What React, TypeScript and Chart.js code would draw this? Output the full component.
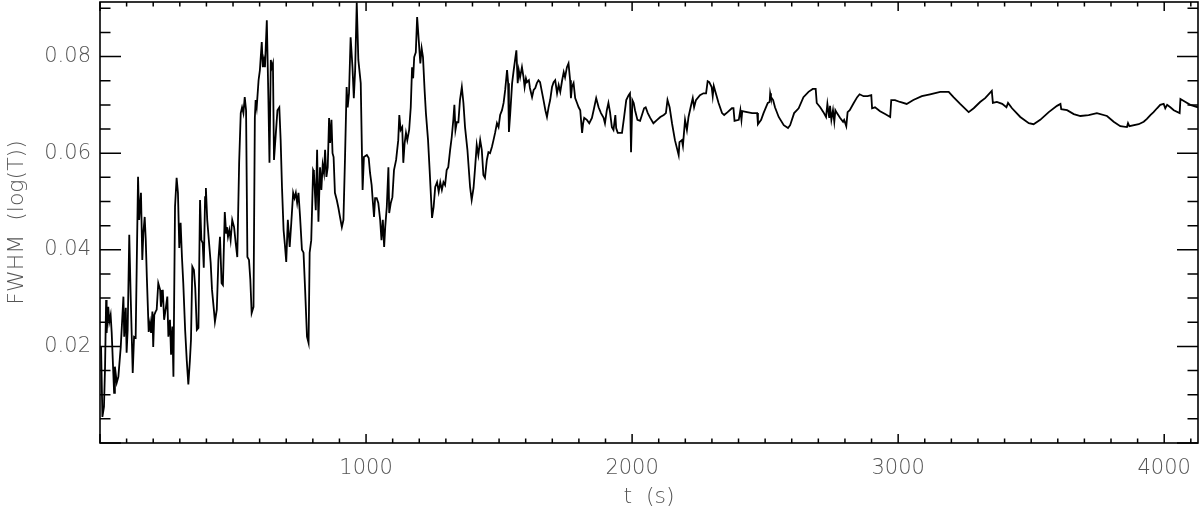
import React, { useEffect, useRef } from "react";
import { Chart, registerables } from "chart.js";

Chart.register(...registerables);

// time (s)
const times: number[] = [
  4, 9, 15, 19, 23, 25, 31, 35, 40, 44,
  50, 53, 56, 63, 69, 78, 88, 91, 97, 100,
  104, 110, 115, 123, 128, 134, 138, 143, 147, 154,
  159, 163, 168, 172, 176, 183, 188, 192, 197, 200,
  204, 209, 213, 219, 226, 229, 236, 241, 248, 253,
  257, 263, 267, 272, 276, 282, 288, 293, 298, 303,
  308, 313, 320, 326, 332, 338, 342, 347, 353, 358,
  364, 370, 376, 381, 386, 390, 395, 398, 403, 410,
  416, 421, 428, 432, 439, 445, 451, 457, 462, 469,
  474, 477, 481, 486, 491, 497, 504, 510, 516, 523,
  529, 534, 539, 544, 549, 554, 560, 565, 570, 577,
  582, 585, 589, 596, 601, 608, 612, 616, 620, 627,
  633, 637, 642, 646, 650, 654, 661, 667, 674, 679,
  684, 690, 695, 700, 706, 713, 719, 726, 731, 736,
  741, 746, 752, 759, 765, 771, 778, 784, 788, 794,
  801, 804, 811, 816, 821, 827, 832, 837, 842, 846,
  851, 856, 861, 865, 870, 874, 878, 883, 890, 896,
  902, 909, 915, 921, 927, 931, 936, 942, 949, 954,
  959, 965, 971, 980, 987, 992, 1003, 1010, 1015, 1021,
  1025, 1030, 1034, 1040, 1046, 1053, 1058, 1063, 1068, 1072,
  1078, 1084, 1087, 1093, 1099, 1105, 1113, 1121, 1125, 1130,
  1136, 1140, 1145, 1150, 1155, 1162, 1168, 1173, 1177, 1181,
  1187, 1192, 1198, 1204, 1209, 1214, 1220, 1225, 1233, 1239,
  1248, 1254, 1260, 1267, 1273, 1279, 1285, 1291, 1297, 1303,
  1309, 1316, 1322, 1328, 1332, 1336, 1341, 1347, 1353, 1360,
  1366, 1372, 1381, 1391, 1397, 1404, 1410, 1416, 1422, 1429,
  1435, 1441, 1447, 1454, 1460, 1466, 1473, 1479, 1485, 1492,
  1498, 1504, 1511, 1517, 1523, 1530, 1534, 1537, 1542, 1549,
  1555, 1561, 1565, 1570, 1574, 1579, 1586, 1592, 1596, 1601,
  1605, 1612, 1616, 1624, 1630, 1636, 1642, 1648, 1654, 1661,
  1667, 1674, 1680, 1686, 1692, 1699, 1705, 1711, 1718, 1724,
  1730, 1737, 1743, 1748, 1755, 1761, 1767, 1770, 1774, 1780,
  1786, 1793, 1799, 1805, 1812, 1816, 1820, 1830, 1839, 1849,
  1857, 1865, 1874, 1883, 1893, 1898, 1905, 1911, 1917, 1924,
  1930, 1937, 1940, 1946, 1953, 1962, 1970, 1978, 1987, 1992,
  1996, 2001, 2006, 2011, 2020, 2030, 2037, 2045, 2051, 2059,
  2068, 2080, 2094, 2106, 2119, 2127, 2133, 2141, 2150, 2161,
  2175, 2178, 2187, 2191, 2199, 2206, 2212, 2220, 2228, 2233,
  2240, 2255, 2268, 2278, 2284, 2290, 2299, 2303, 2307, 2313,
  2325, 2338, 2346, 2359, 2375, 2381, 2385, 2401, 2407, 2411,
  2414, 2432, 2451, 2470, 2473, 2485, 2494, 2510, 2517, 2519,
  2522, 2530, 2537, 2551, 2570, 2586, 2594, 2609, 2626, 2644,
  2663, 2679, 2690, 2694, 2707, 2719, 2729, 2734, 2741, 2744,
  2749, 2755, 2760, 2764, 2770, 2782, 2793, 2797, 2805, 2810,
  2818, 2833, 2846, 2855, 2870, 2885, 2899, 2902, 2913, 2932,
  2951, 2970, 2974, 2988, 3007, 3032, 3057, 3089, 3120, 3158,
  3190, 3208, 3233, 3265, 3284, 3308, 3327, 3352, 3356, 3371,
  3391, 3407, 3413, 3428, 3459, 3491, 3509, 3534, 3566, 3597,
  3610, 3613, 3635, 3660, 3685, 3716, 3747, 3785, 3810, 3835,
  3860, 3864, 3869, 3904, 3923, 3935, 3948, 3960, 3973, 3985,
  3998, 4004, 4011, 4023, 4036, 4058, 4061, 4080, 4098, 4127,
];

// FWHM (log(T))
const fwhm: number[] = [
  0.0199, 0.0054, 0.0075, 0.0158, 0.0296, 0.0228, 0.0282, 0.0251, 0.0265, 0.0228,
  0.0145, 0.0104, 0.0158, 0.0125, 0.0137, 0.0199, 0.0303, 0.0220, 0.0280, 0.0187,
  0.0234, 0.0431, 0.0311, 0.0145, 0.0220, 0.0218, 0.0365, 0.0551, 0.0462, 0.0518,
  0.0379, 0.0435, 0.0468, 0.0420, 0.0344, 0.0230, 0.0249, 0.0228, 0.0272, 0.0199,
  0.0265, 0.0272, 0.0276, 0.0331, 0.0317, 0.0282, 0.0317, 0.0255, 0.0282, 0.0303,
  0.0220, 0.0255, 0.0183, 0.0241, 0.0137, 0.0489, 0.0549, 0.0518, 0.0404, 0.0456,
  0.0385, 0.0331, 0.0234, 0.0172, 0.0121, 0.0172, 0.0214, 0.0365, 0.0358, 0.0321,
  0.0234, 0.0238, 0.0503, 0.0420, 0.0414, 0.0363, 0.0509, 0.0528, 0.0462, 0.0414,
  0.0373, 0.0317, 0.0276, 0.0251, 0.0276, 0.0379, 0.0427, 0.0331, 0.0327, 0.0478,
  0.0435, 0.0447, 0.0427, 0.0441, 0.0420, 0.0462, 0.0447, 0.0414, 0.0385, 0.0580,
  0.0683, 0.0695, 0.0683, 0.0716, 0.0689, 0.0385, 0.0379, 0.0338, 0.0269, 0.0282,
  0.0673, 0.0710, 0.0695, 0.0751, 0.0772, 0.0830, 0.0778, 0.0793, 0.0778, 0.0875,
  0.0710, 0.0580, 0.0793, 0.0778, 0.0786, 0.0586, 0.0642, 0.0689, 0.0695, 0.0627,
  0.0530, 0.0441, 0.0410, 0.0375, 0.0462, 0.0406, 0.0456, 0.0518, 0.0507, 0.0518,
  0.0497, 0.0518, 0.0468, 0.0400, 0.0394, 0.0317, 0.0220, 0.0207, 0.0394, 0.0420,
  0.0565, 0.0561, 0.0482, 0.0607, 0.0458, 0.0571, 0.0524, 0.0576, 0.0559, 0.0607,
  0.0551, 0.0571, 0.0673, 0.0621, 0.0669, 0.0600, 0.0592, 0.0518, 0.0503, 0.0487,
  0.0468, 0.0447, 0.0462, 0.0592, 0.0737, 0.0695, 0.0724, 0.0840, 0.0778, 0.0714,
  0.0772, 0.0912, 0.0793, 0.0745, 0.0524, 0.0592, 0.0596, 0.0590, 0.0559, 0.0534,
  0.0503, 0.0468, 0.0507, 0.0507, 0.0497, 0.0462, 0.0420, 0.0462, 0.0406, 0.0447,
  0.0489, 0.0571, 0.0476, 0.0497, 0.0509, 0.0565, 0.0586, 0.0627, 0.0679, 0.0648,
  0.0654, 0.0580, 0.0621, 0.0642, 0.0627, 0.0648, 0.0695, 0.0778, 0.0755, 0.0799,
  0.0809, 0.0882, 0.0834, 0.0786, 0.0817, 0.0799, 0.0731, 0.0683, 0.0627, 0.0565,
  0.0466, 0.0489, 0.0530, 0.0540, 0.0520, 0.0540, 0.0524, 0.0540, 0.0534, 0.0565,
  0.0571, 0.0607, 0.0633, 0.0669, 0.0700, 0.0648, 0.0664, 0.0664, 0.0710, 0.0737,
  0.0704, 0.0654, 0.0607, 0.0530, 0.0503, 0.0528, 0.0571, 0.0617, 0.0596, 0.0627,
  0.0607, 0.0555, 0.0549, 0.0586, 0.0602, 0.0600, 0.0613, 0.0627, 0.0642, 0.0662,
  0.0654, 0.0679, 0.0689, 0.0704, 0.0731, 0.0772, 0.0745, 0.0644, 0.0683, 0.0745,
  0.0772, 0.0797, 0.0813, 0.0745, 0.0772, 0.0757, 0.0778, 0.0757, 0.0737, 0.0755,
  0.0747, 0.0751, 0.0735, 0.0716, 0.0731, 0.0735, 0.0745, 0.0751, 0.0747, 0.0727,
  0.0710, 0.0689, 0.0675, 0.0695, 0.0710, 0.0737, 0.0747, 0.0751, 0.0724, 0.0741,
  0.0727, 0.0751, 0.0768, 0.0757, 0.0778, 0.0786, 0.0751, 0.0714, 0.0737, 0.0745,
  0.0714, 0.0704, 0.0695, 0.0689, 0.0642, 0.0662, 0.0673, 0.0669, 0.0662, 0.0673,
  0.0693, 0.0714, 0.0695, 0.0683, 0.0673, 0.0662, 0.0689, 0.0704, 0.0685, 0.0654,
  0.0648, 0.0679, 0.0652, 0.0642, 0.0642, 0.0642, 0.0675, 0.0710, 0.0720, 0.0724,
  0.0602, 0.0710, 0.0704, 0.0689, 0.0669, 0.0667, 0.0679, 0.0693, 0.0695, 0.0683,
  0.0673, 0.0662, 0.0669, 0.0675, 0.0679, 0.0683, 0.0710, 0.0695, 0.0662, 0.0627,
  0.0596, 0.0623, 0.0627, 0.0615, 0.0669, 0.0648, 0.0675, 0.0695, 0.0714, 0.0695,
  0.0710, 0.0720, 0.0724, 0.0724, 0.0749, 0.0747, 0.0737, 0.0718, 0.0739, 0.0727,
  0.0704, 0.0683, 0.0679, 0.0685, 0.0693, 0.0693, 0.0667, 0.0669, 0.0689, 0.0669,
  0.0687, 0.0685, 0.0683, 0.0683, 0.0660, 0.0669, 0.0683, 0.0704, 0.0706, 0.0724,
  0.0716, 0.0710, 0.0695, 0.0675, 0.0658, 0.0652, 0.0658, 0.0683, 0.0693, 0.0716,
  0.0727, 0.0733, 0.0733, 0.0704, 0.0695, 0.0685, 0.0675, 0.0702, 0.0673, 0.0698,
  0.0669, 0.0689, 0.0665, 0.0689, 0.0683, 0.0673, 0.0665, 0.0669, 0.0656, 0.0685,
  0.0689, 0.0704, 0.0716, 0.0722, 0.0718, 0.0718, 0.0720, 0.0693, 0.0695, 0.0687,
  0.0681, 0.0675, 0.0710, 0.0710, 0.0706, 0.0702, 0.0710, 0.0718, 0.0722, 0.0727,
  0.0727, 0.0716, 0.0702, 0.0685, 0.0693, 0.0706, 0.0714, 0.0729, 0.0704, 0.0706,
  0.0702, 0.0695, 0.0704, 0.0693, 0.0675, 0.0662, 0.0660, 0.0669, 0.0685, 0.0698,
  0.0702, 0.0691, 0.0689, 0.0681, 0.0677, 0.0679, 0.0683, 0.0677, 0.0665, 0.0656,
  0.0654, 0.0662, 0.0656, 0.0660, 0.0665, 0.0671, 0.0679, 0.0685, 0.0693, 0.0700,
  0.0702, 0.0693, 0.0700, 0.0695, 0.0689, 0.0683, 0.0712, 0.0706, 0.0700, 0.0695,
];

// axis tick labels
const xTickValues: number[] = [1000, 2000, 3000, 4000];
const yTickValues: number[] = [0.02, 0.04, 0.06, 0.08];

const xMin = 0;
const xMax = 4127;
const yMin = 0;
const yMax = 0.0913;
const xMajorStep = 1000;
const xMinorStep = 100;
const yMajorStep = 0.02;
const yMinorStep = 0.005;

const TEXT_COLOR = "#555555";
const FONT_FAMILY = "'DejaVu Sans', 'Liberation Sans', sans-serif";

const frameTicks = {
  id: "frameTicks",
  afterDraw(chart: any) {
    const { ctx, chartArea } = chart;
    const { left, right, top, bottom } = chartArea;
    const xs = chart.scales.x;
    const ys = chart.scales.y;
    ctx.save();
    ctx.strokeStyle = "#000";
    ctx.lineWidth = 1.6;
    ctx.strokeRect(left, top, right - left, bottom - top);
    ctx.lineWidth = 1.5;
    ctx.beginPath();
    const nx = Math.floor((xMax - xMin) / xMinorStep);
    for (let i = 0; i <= nx; i++) {
      const v = xMin + i * xMinorStep;
      const px = xs.getPixelForValue(v);
      const major = Math.round(v) % xMajorStep === 0;
      const len = major ? 9 : 4.5;
      ctx.moveTo(px, bottom);
      ctx.lineTo(px, bottom - len);
      ctx.moveTo(px, top);
      ctx.lineTo(px, top + len);
    }
    const ny = Math.floor((yMax - yMin) / yMinorStep + 1e-6);
    const ratio = Math.round(yMajorStep / yMinorStep);
    for (let k = 0; k <= ny; k++) {
      const v = yMin + k * yMinorStep;
      const py = ys.getPixelForValue(v);
      const major = k % ratio === 0;
      const len = major ? 21 : 10.5;
      ctx.moveTo(left, py);
      ctx.lineTo(left + len, py);
      ctx.moveTo(right, py);
      ctx.lineTo(right - len, py);
    }
    ctx.stroke();
    ctx.restore();
  },
};

const zeroPadding = (scale: any) => {
  scale.paddingTop = 0;
  scale.paddingBottom = 0;
  scale.paddingLeft = 0;
  scale.paddingRight = 0;
};

export default function App() {
  const canvasRef = useRef<HTMLCanvasElement | null>(null);

  useEffect(() => {
    if (!canvasRef.current) return;
    const n = Math.min(times.length, fwhm.length);
    const points = [];
    for (let i = 0; i < n; i++) points.push({ x: times[i], y: fwhm[i] });

    const chart = new Chart(canvasRef.current, {
      type: "line",
      data: {
        datasets: [
          {
            data: points,
            borderColor: "#000000",
            borderWidth: 1.8,
            pointRadius: 0,
            tension: 0,
            fill: false,
          },
        ],
      },
      options: {
        responsive: false,
        animation: false,
        devicePixelRatio: 1,
        layout: { padding: { top: 2, right: 2, left: 0, bottom: 0 } },
        plugins: {
          legend: { display: false },
          tooltip: { enabled: false },
        },
        scales: {
          x: {
            type: "linear",
            min: xMin,
            max: xMax,
            grid: { display: false, drawTicks: false },
            border: { display: false },
            afterBuildTicks: (scale: any) => {
              scale.ticks = xTickValues.map((v) => ({ value: v }));
            },
            ticks: {
              maxRotation: 0,
              autoSkip: false,
              padding: 13,
              color: TEXT_COLOR,
              font: { family: FONT_FAMILY, size: 21, weight: "200" as any },
              callback: (v: any) => String(v),
            },
            title: {
              display: true,
              text: "t  (s)",
              color: TEXT_COLOR,
              font: { family: FONT_FAMILY, size: 22, weight: "200" as any },
              padding: { top: 4, bottom: 4 },
            },
            afterFit: (scale: any) => {
              scale.height = 71;
              zeroPadding(scale);
            },
          },
          y: {
            type: "linear",
            min: yMin,
            max: yMax,
            grid: { display: false, drawTicks: false },
            border: { display: false },
            afterBuildTicks: (scale: any) => {
              scale.ticks = yTickValues.map((v) => ({ value: v }));
            },
            ticks: {
              autoSkip: false,
              padding: 9,
              color: TEXT_COLOR,
              font: { family: FONT_FAMILY, size: 21, weight: "200" as any },
              callback: (v: any) => Number(v).toFixed(2),
            },
            title: {
              display: true,
              text: "FWHM  (log(T))",
              color: TEXT_COLOR,
              font: { family: FONT_FAMILY, size: 22, weight: "200" as any },
              padding: { top: 4, bottom: 4 },
            },
            afterFit: (scale: any) => {
              scale.width = 100;
              zeroPadding(scale);
            },
          },
        },
      },
      plugins: [frameTicks],
    });
    return () => chart.destroy();
  }, []);

  return (
    <div style={{ position: "absolute", left: 0, top: 0, width: 1200, height: 514, background: "#fff" }}>
      <canvas ref={canvasRef} width={1200} height={514} />
    </div>
  );
}
